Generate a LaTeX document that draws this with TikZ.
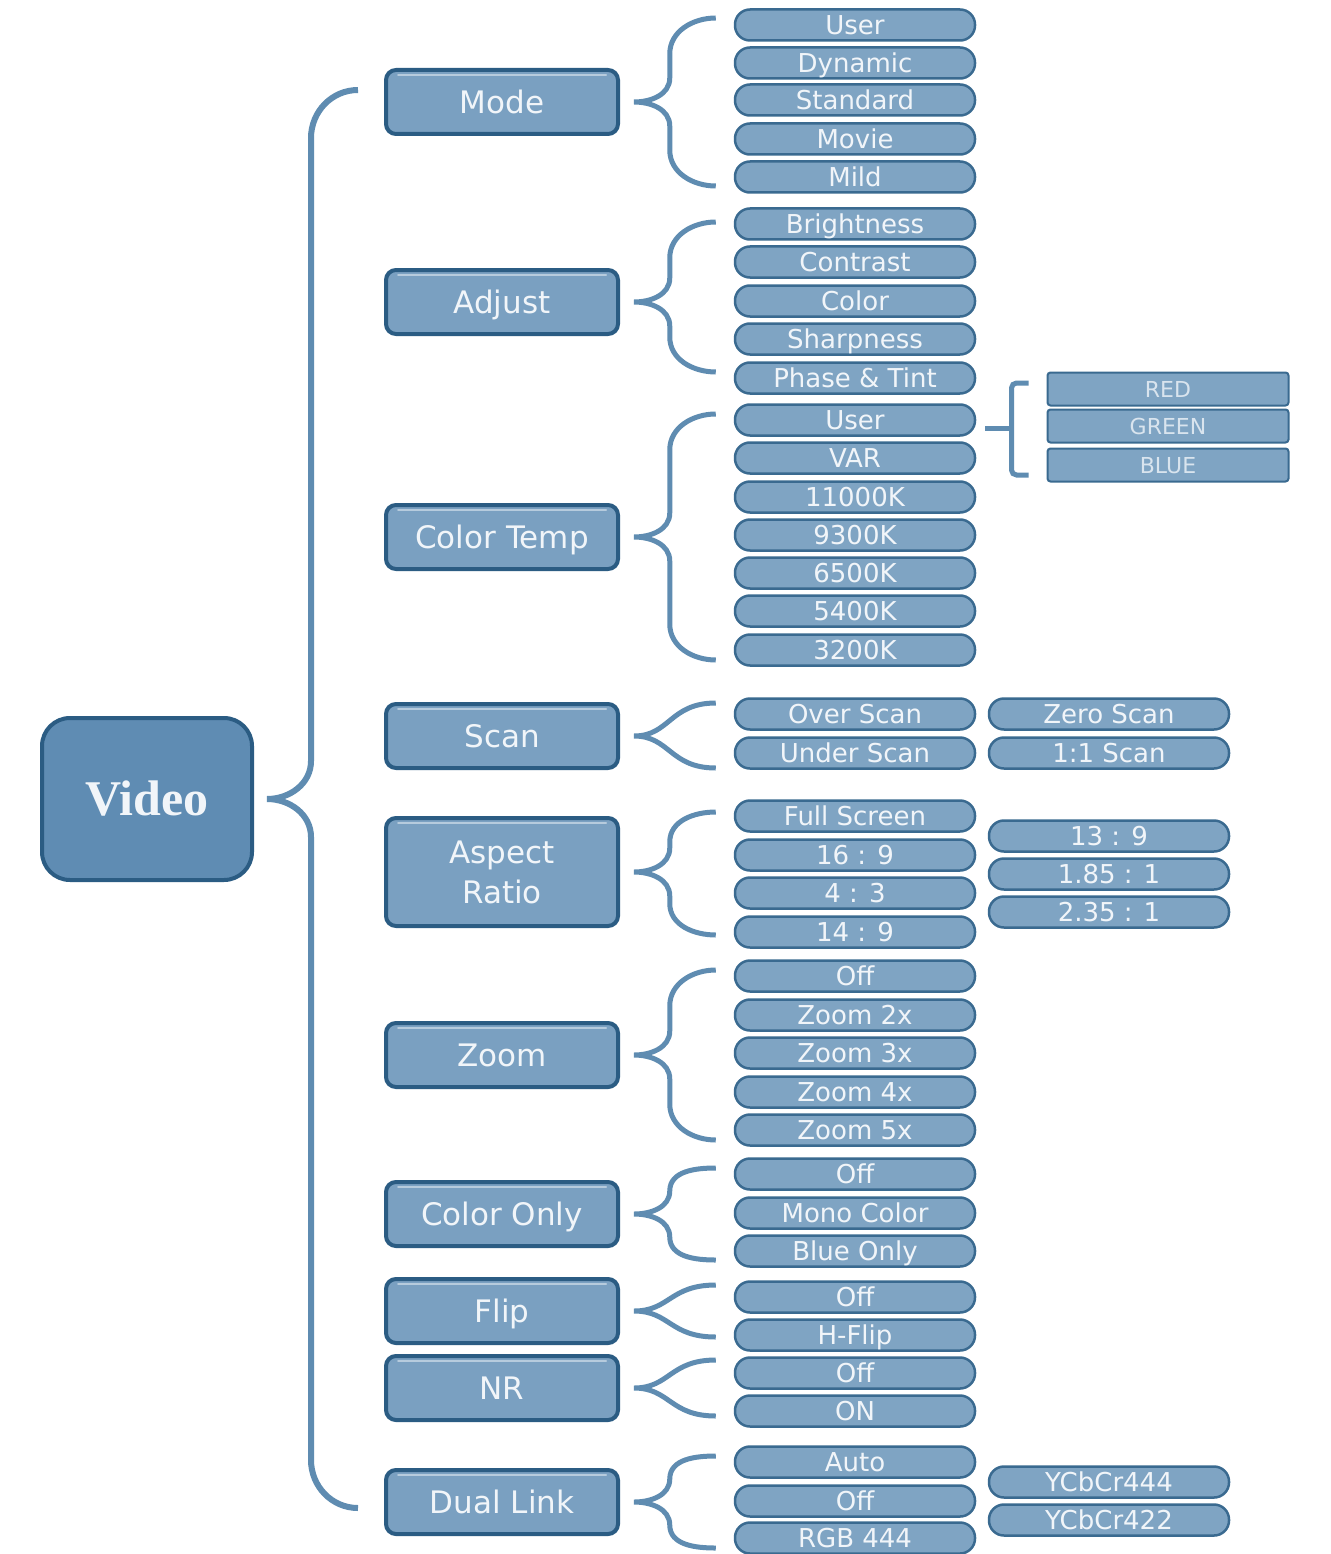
\documentclass[tikz,border=0pt]{standalone}
\usepackage{fontspec}
\setsansfont{DejaVu Sans}
\newfontfamily\rootfont{Liberation Serif}
\usetikzlibrary{calc}

\definecolor{boxfill}{HTML}{7AA0C1}
\definecolor{boxline}{HTML}{2B5C83}
\definecolor{rootfill}{HTML}{5F8CB3}
\definecolor{pillfill}{HTML}{7FA4C3}
\definecolor{pillline}{HTML}{3A6A90}
\definecolor{bracecol}{HTML}{5F8CB1}
\definecolor{labeltext}{HTML}{F1F5F9}
\definecolor{rgbtext}{HTML}{D9E4EE}

\tikzset{
  menubox/.style={draw=boxline, line width=4pt, fill=boxfill, rounded corners=10pt,
    minimum width=232pt, minimum height=64pt, inner sep=0pt, align=center, text=labeltext,
    font=\sffamily\fontsize{31}{40}\selectfont, text height=22.6pt, text depth=0pt,
    path picture={\draw[white!45!boxfill, line width=2pt, line cap=round]
      ([xshift=12pt,yshift=-5pt]path picture bounding box.north west) -- ([xshift=-12pt,yshift=-5pt]path picture bounding box.north east);}},
  pill/.style={draw=pillline, line width=2.5pt, fill=pillfill, rounded corners=15pt,
    minimum width=240pt, minimum height=31pt, inner sep=0pt, text=labeltext,
    font=\sffamily\fontsize{26}{28}\selectfont, text height=19pt, text depth=0pt},
  rgbbox/.style={draw=pillline, line width=2pt, fill=pillfill, rounded corners=3pt,
    minimum width=241pt, minimum height=33pt, inner sep=0pt, text=rgbtext,
    font=\sffamily\fontsize{22}{24}\selectfont, text height=16pt, text depth=0pt},
  bracket/.style={draw=bracecol, line width=5pt}
}

% brace from a menu box to the first and last entry of its list (ends pushed out by #3 and #5)
\def\menubrace(#1)(#2:#3)(#4:#5){\draw[bracket] let \p1=($(#1.east)+(14,0)$), \p2=($(#2.west)+(-18,-#3)$), \p3=($(#4.west)+(-18,#5)$),
    \n1={min(36,(\y2-\y1)/2)}, \n2={min(24,(\y2-\y1)/2)}, \n3={min(24,(\y1-\y3)/2)}, \n4={min(36,(\y1-\y3)/2)} in
    (\x2,\y2) to[out=180,in=90] (\x2-46pt,\y2-\n1) -- (\x2-46pt,\y1+\n2) to[out=-90,in=0] (\x1,\y1)
    to[out=0,in=90] (\x2-46pt,\y1-\n3) -- (\x2-46pt,\y3+\n4) to[out=-90,in=180] (\x3,\y3);}
% short two-entry brace: one s-curve on each side
\def\shortbrace(#1)(#2:#3)(#4:#5){\draw[bracket] let \p1=($(#1.east)+(14,0)$), \p2=($(#2.west)+(-18,-#3)$), \p3=($(#4.west)+(-18,#5)$) in
    (\x2,\y2) .. controls (\x2-46pt,\y2) and (\x2-46pt,\y1) .. (\x1,\y1)
    .. controls (\x2-46pt,\y1) and (\x2-46pt,\y3) .. (\x3,\y3);}

\begin{document}
\begin{tikzpicture}[x=1pt,y=-1pt]
			%%%%% START %%%%%
			\useasboundingbox[fill=white] (0,0) rectangle (1330,1554);
			
			\node[menubox, fill=rootfill, minimum width=210pt, minimum height=162pt, rounded corners=28pt,
			  font=\rootfont\bfseries\fontsize{50}{54}\selectfont, text height=33pt, path picture={}] (video) at (147,799) {Video};
			
			\node[menubox] (mode) at (502,102) {Mode};
			\node[menubox] (adjust) at (502,302) {Adjust};
			\node[menubox] (ctemp) at (502,537) {Color Temp};
			\node[menubox] (scan) at (502,736) {Scan};
			\node[menubox, minimum height=108pt, text height=62.6pt] (aspect) at (502,872) {Aspect\\Ratio};
			\node[menubox] (zoom) at (502,1055) {Zoom};
			\node[menubox] (conly) at (502,1214) {Color Only};
			\node[menubox] (flip) at (502,1311) {Flip};
			\node[menubox] (nr) at (502,1388) {NR};
			\node[menubox] (dlink) at (502,1502) {Dual Link};
			
			\node[pill] (muser) at (855,25) {User};
			\node[pill] (dynamic) at (855,63) {Dynamic};
			\node[pill] (standard) at (855,100) {Standard};
			\node[pill] (movie) at (855,139) {Movie};
			\node[pill] (mild) at (855,177) {Mild};
			
			\node[pill] (bright) at (855,224) {Brightness};
			\node[pill] (contrast) at (855,262) {Contrast};
			\node[pill] (color) at (855,301) {Color};
			\node[pill] (sharp) at (855,339) {Sharpness};
			\node[pill] (phase) at (855,378) {Phase \& Tint};
			
			\node[pill] (ctuser) at (855,420) {User};
			\node[pill] (var) at (855,458) {VAR};
			\node[pill] (k11000) at (855,497) {11000K};
			\node[pill] (k9300) at (855,535) {9300K};
			\node[pill] (k6500) at (855,573) {6500K};
			\node[pill] (k5400) at (855,611) {5400K};
			\node[pill] (k3200) at (855,650) {3200K};
			
			\node[rgbbox] (red) at (1168,389) {RED};
			\node[rgbbox] (green) at (1168,426) {GREEN};
			\node[rgbbox] (blue) at (1168,465) {BLUE};
			
			\node[pill] (over) at (855,714) {Over Scan};
			\node[pill] (under) at (855,753) {Under Scan};
			\node[pill] (zero) at (1109,714) {Zero Scan};
			\node[pill] (oneone) at (1109,753) {1:1 Scan};
			
			\node[pill] (full) at (855,816) {Full Screen};
			\node[pill] (r169) at (855,855) {16 : 9};
			\node[pill] (r43) at (855,893) {4 : 3};
			\node[pill] (r149) at (855,932) {14 : 9};
			\node[pill] (r139) at (1109,836) {13 : 9};
			\node[pill] (r185) at (1109,874) {1.85 : 1};
			\node[pill] (r235) at (1109,912) {2.35 : 1};
			
			\node[pill] (zoff) at (855,976) {Off};
			\node[pill] (z2) at (855,1015) {Zoom 2x};
			\node[pill] (z3) at (855,1053) {Zoom 3x};
			\node[pill] (z4) at (855,1092) {Zoom 4x};
			\node[pill] (z5) at (855,1130) {Zoom 5x};
			
			\node[pill] (coff) at (855,1174) {Off};
			\node[pill] (mono) at (855,1213) {Mono Color};
			\node[pill] (bonly) at (855,1251) {Blue Only};
			
			\node[pill] (foff) at (855,1297) {Off};
			\node[pill] (hflip) at (855,1335) {H-Flip};
			
			\node[pill] (noff) at (855,1373) {Off};
			\node[pill] (non) at (855,1411) {ON};
			
			\node[pill] (auto) at (855,1462) {Auto};
			\node[pill] (doff) at (855,1501) {Off};
			\node[pill] (rgb) at (855,1538) {RGB 444};
			\node[pill] (y444) at (1109,1482) {YCbCr444};
			\node[pill] (y422) at (1109,1520) {YCbCr422};
			
			% main brace
			\draw[bracket, line width=6pt] let \p1=($(video.east)+(13,0)$), \p2=($(mode.west)+(-26,-12)$), \p3=($(dlink.west)+(-26,6)$) in
			  (\x2,\y2) to[out=180,in=90] (\x2-47pt,\y2-48pt) -- (\x2-47pt,\y1+38pt) to[out=-90,in=0] (\x1,\y1)
			  to[out=0,in=90] (\x2-47pt,\y1-38pt) -- (\x2-47pt,\y3+48pt) to[out=-90,in=180] (\x3,\y3);
			
			\menubrace(mode)(muser:7)(mild:9);
			\menubrace(adjust)(bright:2)(phase:-6);
			\menubrace(ctemp)(ctuser:6)(k3200:10);
			\shortbrace(scan)(over:11)(under:15);
			\menubrace(aspect)(full:4)(r149:3);
			\menubrace(zoom)(zoff:6)(z5:10);
			\menubrace(conly)(coff:6)(bonly:9);
			\shortbrace(flip)(foff:12)(hflip:2);
			\shortbrace(nr)(noff:13)(non:5);
			\menubrace(dlink)(auto:6)(rgb:10);
			
			\draw[bracket, rounded corners=5pt] ($(red.west)+(-18,-6)$) -- ++(-17,0) |- ($(blue.west)+(-18,10)$);
			\draw[bracket] ($(ctuser.east)+(9,8)$) -- ++(28,0);
			
			%%%%% END %%%%%
		\end{tikzpicture}
\end{document}
